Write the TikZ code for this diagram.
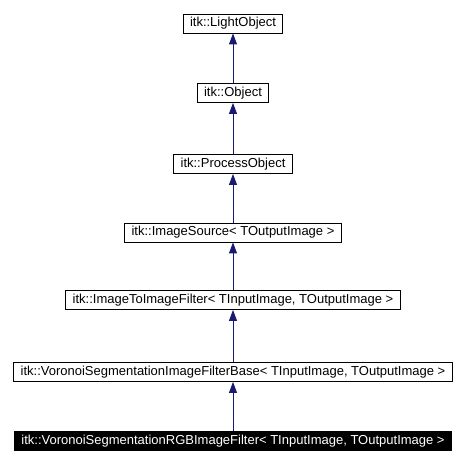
\documentclass[tikz,border=0pt]{standalone}
\usepackage{fontspec}
\setmainfont{Liberation Sans}
\usetikzlibrary{arrows.meta,positioning}
\definecolor{edgeblue}{RGB}{25,25,112}

\begin{document}
\begin{tikzpicture}[%
    >={Triangle[length=11pt,width=8pt]},   % filled heads, like doxygen
    x=1pt,
    y=1pt,
    cls/.style={draw=black, line width=0.9pt, fill=white, font={\fontsize{13pt}{15pt}\selectfont},
                inner xsep=6.8pt, inner ysep=0pt, minimum height=19pt, text height=9.5pt, text depth=2.7pt},
    cur/.style={cls, fill=black, text=white},
    inh/.style={->, draw=edgeblue, fill=edgeblue, line width=0.9pt}
    ]

    \useasboundingbox (0,0) rectangle (465,465);

    \node at (233,441.5) [cls] (lightobj) {itk::LightObject};
    \node at (233,372) [cls] (obj) {itk::Object};
    \node at (233,301) [cls] (procobj) {itk::ProcessObject};
    \node at (233,232.5) [cls] (imgsrc) {itk::ImageSource< TOutputImage >};
    \node at (233,165) [cls] (img2img) {itk::ImageToImageFilter< TInputImage, TOutputImage >};
    \node at (233,93) [cls] (vsbase) {itk::VoronoiSegmentationImageFilterBase< TInputImage, TOutputImage >};
    \node at (233,24) [cur] (vsrgb) {itk::VoronoiSegmentationRGBImageFilter< TInputImage, TOutputImage >};

    % inheritance, child to parent
        \draw [inh] (obj) -- (lightobj);
        \draw [inh] (procobj) -- (obj);
        \draw [inh] (imgsrc) -- (procobj);
        \draw [inh] (img2img) -- (imgsrc);
        \draw [inh] (vsbase) -- (img2img);
        \draw [inh] (vsrgb) -- (vsbase);
\end{tikzpicture}
\end{document}
